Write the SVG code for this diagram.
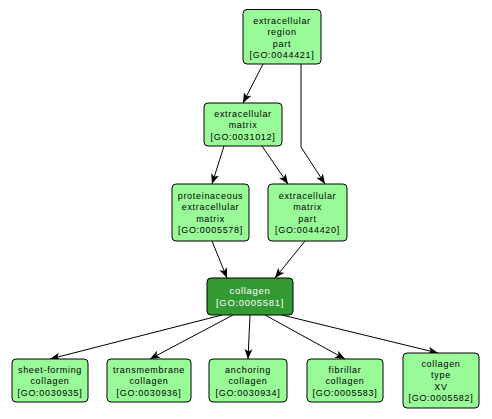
<svg xmlns="http://www.w3.org/2000/svg" width="492" height="419" viewBox="0 0 492 419">
<style>
.n rect{fill:#98fb98;stroke:#000;stroke-width:1}
.n.d rect{fill:#339933}
.n text{font-family:"Liberation Sans",Arial,sans-serif;font-size:9px;letter-spacing:0.7px;text-anchor:middle;fill:#000}
.n.d text{fill:#fff;font-size:9.5px}
.e line,.e path{stroke:#000;stroke-width:1;fill:none;marker-end:url(#a)}
</style>
<defs>
<marker id="a" markerUnits="userSpaceOnUse" markerWidth="12" markerHeight="10" refX="10" refY="4" orient="auto" viewBox="0 0 12 8">
<path d="M0,0 L10,4 L0,8 L2.5,4 Z" fill="#000"/>
</marker>
</defs>
<rect width="492" height="419" fill="#fff"/>
<g id="edges" class="e">
<line x1="263" y1="64" x2="243" y2="103"/>
<path d="M301,64 L301,147 L325,184"/>
<line x1="224" y1="146" x2="212" y2="184"/>
<line x1="262" y1="146" x2="288" y2="184"/>
<line x1="212" y1="241" x2="227" y2="278"/>
<line x1="305" y1="241" x2="275" y2="278"/>
<line x1="222" y1="315" x2="50" y2="359"/>
<line x1="233" y1="315" x2="150" y2="359"/>
<line x1="250" y1="315" x2="248" y2="359"/>
<line x1="265" y1="315" x2="345" y2="359"/>
<line x1="282" y1="315" x2="438" y2="353"/>
</g>
<g id="GO0044421" class="n">
<rect x="243" y="9.5" width="78" height="54.5" rx="4"/>
<text x="282" y="23.5">extracellular</text>
<text x="282" y="35">region</text>
<text x="282" y="46.5">part</text>
<text x="282" y="58">[GO:0044421]</text>
</g>
<g id="GO0031012" class="n">
<rect x="204" y="103" width="78" height="43" rx="4"/>
<text x="243" y="116.5">extracellular</text>
<text x="243" y="128">matrix</text>
<text x="243" y="139.5">[GO:0031012]</text>
</g>
<g id="GO0005578" class="n">
<rect x="172" y="184" width="77" height="57" rx="4"/>
<text x="210.5" y="198.75">proteinaceous</text>
<text x="210.5" y="210.25">extracellular</text>
<text x="210.5" y="221.75">matrix</text>
<text x="210.5" y="233.25">[GO:0005578]</text>
</g>
<g id="GO0044420" class="n">
<rect x="268" y="184" width="79" height="57" rx="4"/>
<text x="307.5" y="198.75">extracellular</text>
<text x="307.5" y="210.25">matrix</text>
<text x="307.5" y="221.75">part</text>
<text x="307.5" y="233.25">[GO:0044420]</text>
</g>
<g id="GO0005581" class="n d">
<rect x="207" y="278" width="86" height="37" rx="4"/>
<text x="250" y="294">collagen</text>
<text x="250" y="306">[GO:0005581]</text>
</g>
<g id="GO0030935" class="n">
<rect x="12" y="359" width="76" height="43" rx="4"/>
<text x="50" y="372.5">sheet-forming</text>
<text x="50" y="384">collagen</text>
<text x="50" y="395.5">[GO:0030935]</text>
</g>
<g id="GO0030936" class="n">
<rect x="107" y="359" width="84" height="43" rx="4"/>
<text x="149" y="372.5">transmembrane</text>
<text x="149" y="384">collagen</text>
<text x="149" y="395.5">[GO:0030936]</text>
</g>
<g id="GO0030934" class="n">
<rect x="209" y="359" width="78" height="43" rx="4"/>
<text x="248" y="372.5">anchoring</text>
<text x="248" y="384">collagen</text>
<text x="248" y="395.5">[GO:0030934]</text>
</g>
<g id="GO0005583" class="n">
<rect x="307" y="359" width="76" height="43" rx="4"/>
<text x="345" y="372.5">fibrillar</text>
<text x="345" y="384">collagen</text>
<text x="345" y="395.5">[GO:0005583]</text>
</g>
<g id="GO0005582" class="n">
<rect x="403" y="353" width="76" height="55" rx="4"/>
<text x="441" y="366.75">collagen</text>
<text x="441" y="378.25">type</text>
<text x="441" y="389.75">XV</text>
<text x="441" y="401.25">[GO:0005582]</text>
</g>
</svg>
